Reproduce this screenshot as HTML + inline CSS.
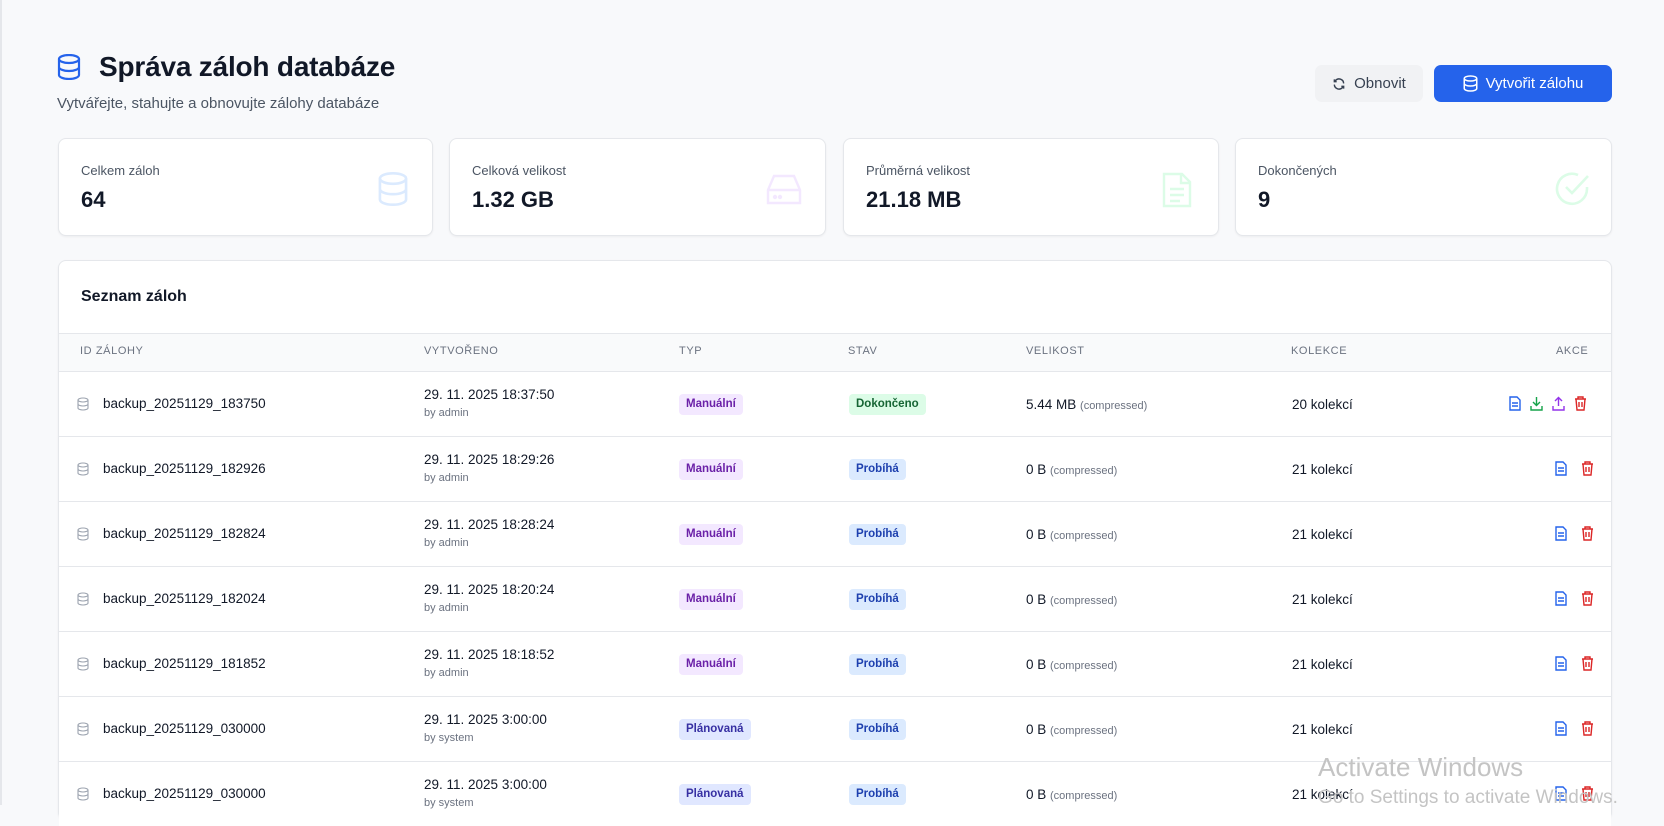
<!DOCTYPE html>
<html><head><meta charset="utf-8"><style>
*{box-sizing:border-box;margin:0;padding:0}
body{width:1664px;height:805px;overflow:hidden;background:#f8f9fb;font-family:"Liberation Sans",sans-serif;color:#111827;position:relative;border-left:2px solid #e5e7eb}
.a{position:absolute}
.title{left:97px;top:51px;font-size:28px;font-weight:bold;color:#111827;letter-spacing:-0.2px}
.sub{left:55px;top:95px;font-size:15px;color:#4b5563}
.btn{top:65px;height:37px;border-radius:7px;font-size:15px;display:flex;align-items:center;justify-content:center;gap:8px}
.card{background:#fff;border:1px solid #e5e7eb;border-radius:8px;box-shadow:0 1px 2px rgba(0,0,0,.05)}
.lbl{font-size:13px;color:#4b5563;position:absolute;left:22px;top:24px}
.val{font-size:22px;font-weight:bold;color:#111827;position:absolute;left:22px;top:48px}
.th{position:absolute;top:345px;font-size:11px;color:#6b7280;letter-spacing:.6px}
.row{position:absolute;left:57px;width:1552px;height:65px;border-top:1px solid #e5e7eb}
.row>*{position:absolute}
.id{left:44px;top:24px;font-size:13.5px;color:#111827}
.dt{left:365px;top:15px;font-size:13.5px;color:#111827}
.by{left:365px;top:35px;font-size:11px;color:#6b7280}
.badge{top:22px;height:21px;border-radius:4px;font-size:11.5px;font-weight:bold;padding:0 7px;line-height:21px}
.sz{left:967px;top:25px;font-size:13.5px}
.sz span{font-size:11px;color:#6b7280}
.kol{left:1233px;top:25px;font-size:13.5px}
</style></head><body>
<svg class="a" style="left:55px;top:54px" width="24" height="26" viewBox="0 0 24 26" fill="none" stroke="#2563eb" stroke-width="2.2"><ellipse cx="12" cy="5" rx="10" ry="4"/><path d="M2 5v16c0 2.2 4.5 4 10 4s10-1.8 10-4V5M2 13c0 2.2 4.5 4 10 4s10-1.8 10-4"/></svg>
<div class="a title">Správa záloh databáze</div>
<div class="a sub">Vytvářejte, stahujte a obnovujte zálohy databáze</div>
<div class="a btn" style="left:1313px;width:108px;background:#f1f2f4;color:#374151"><svg width="14" height="14" viewBox="0 0 24 24" fill="none" stroke="#374151" stroke-width="2.4"><path d="M20 11a8 8 0 0 0-14-5l-2 2M4 4v4h4M4 13a8 8 0 0 0 14 5l2-2M20 20v-4h-4"/></svg>Obnovit</div>
<div class="a btn" style="left:1432px;width:178px;background:#2563eb;color:#fff"><svg width="15" height="17" viewBox="0 0 24 26" fill="none" stroke="#fff" stroke-width="2.4"><ellipse cx="12" cy="5" rx="10" ry="4"/><path d="M2 5v16c0 2.2 4.5 4 10 4s10-1.8 10-4V5M2 13c0 2.2 4.5 4 10 4s10-1.8 10-4"/></svg>Vytvořit zálohu</div>

<div class="a card" style="left:56px;top:138px;width:375px;height:98px"><div class="lbl">Celkem záloh</div><div class="val">64</div>
<svg class="a" style="left:318px;top:33px" width="32" height="34" viewBox="0 0 24 26" fill="none" stroke="#dbeafe" stroke-width="2"><ellipse cx="12" cy="5" rx="10" ry="4"/><path d="M2 5v16c0 2.2 4.5 4 10 4s10-1.8 10-4V5M2 13c0 2.2 4.5 4 10 4s10-1.8 10-4"/></svg></div>
<div class="a card" style="left:447px;top:138px;width:377px;height:98px"><div class="lbl">Celková velikost</div><div class="val">1.32 GB</div>
<svg class="a" style="left:316px;top:35px" width="36" height="32" viewBox="0 0 36 32" fill="none" stroke="#f3e8ff" stroke-width="2.4"><path d="M8 2h20l6 14v13H2V16z M2 16h32"/><circle cx="9" cy="23" r="1"/><circle cx="14" cy="23" r="1"/></svg></div>
<div class="a card" style="left:841px;top:138px;width:376px;height:98px"><div class="lbl">Průměrná velikost</div><div class="val">21.18 MB</div>
<svg class="a" style="left:318px;top:33px" width="30" height="36" viewBox="0 0 30 36" fill="none" stroke="#dcfce7" stroke-width="2.4"><path d="M2 2h18l8 8v24H2z M19 2v9h9 M8 17h14 M8 23h14 M8 29h10"/></svg></div>
<div class="a card" style="left:1233px;top:138px;width:377px;height:98px"><div class="lbl">Dokončených</div><div class="val">9</div>
<svg class="a" style="left:318px;top:32px" width="36" height="36" viewBox="0 0 36 36" fill="none" stroke="#dcfce7" stroke-width="2.6"><path d="M33 16v2a15 15 0 1 1-9-14"/><path d="M12 16l6 6L34 5"/></svg></div>

<div class="a card" style="left:56px;top:260px;width:1554px;height:560px;overflow:hidden">
<div class="a" style="left:22px;top:27px;font-size:16px;font-weight:bold">Seznam záloh</div>
<div class="a" style="left:0;top:72px;width:1554px;height:39px;background:#f9fafb;border-top:1px solid #e5e7eb"></div>
</div>
<div class="th" style="left:78px">ID ZÁLOHY</div>
<div class="th" style="left:422px">VYTVOŘENO</div>
<div class="th" style="left:677px">TYP</div>
<div class="th" style="left:846px">STAV</div>
<div class="th" style="left:1024px">VELIKOST</div>
<div class="th" style="left:1289px">KOLEKCE</div>
<div class="th" style="left:1554px">AKCE</div>

<div id="rows"></div>
<script>
const rows=[
["backup_20251129_183750","29. 11. 2025 18:37:50","admin","Manuální","Dokončeno","5.44 MB","20 kolekcí",1],
["backup_20251129_182926","29. 11. 2025 18:29:26","admin","Manuální","Probíhá","0 B","21 kolekcí",0],
["backup_20251129_182824","29. 11. 2025 18:28:24","admin","Manuální","Probíhá","0 B","21 kolekcí",0],
["backup_20251129_182024","29. 11. 2025 18:20:24","admin","Manuální","Probíhá","0 B","21 kolekcí",0],
["backup_20251129_181852","29. 11. 2025 18:18:52","admin","Manuální","Probíhá","0 B","21 kolekcí",0],
["backup_20251129_030000","29. 11. 2025 3:00:00","system","Plánovaná","Probíhá","0 B","21 kolekcí",0],
["backup_20251129_030000","29. 11. 2025 3:00:00","system","Plánovaná","Probíhá","0 B","21 kolekcí",0]];
const doc=c=>`<svg width="12" height="15" viewBox="0 0 12 15" fill="none" stroke="${c}" stroke-width="1.4"><path d="M1 1h7l3 3v10H1z M3 7h6 M3 10h6"/></svg>`;
const trash=`<svg width="13" height="15" viewBox="0 0 13 15" fill="none" stroke="#dc2626" stroke-width="1.4"><path d="M1 3h11 M4 3V1h5v2 M2 3l1 11h7l1-11 M5 6v5 M8 6v5"/></svg>`;
const dl=`<svg width="13" height="15" viewBox="0 0 13 15" fill="none" stroke="#16a34a" stroke-width="1.4"><path d="M6.5 1v8 M3 6l3.5 3.5L10 6 M1 10v4h11v-4"/></svg>`;
const ul=`<svg width="13" height="15" viewBox="0 0 13 15" fill="none" stroke="#9333ea" stroke-width="1.4"><path d="M6.5 10V2 M3 5l3.5-3.5L10 5 M1 10v4h11v-4"/></svg>`;
const db=`<svg width="12" height="14" viewBox="0 0 24 26" fill="none" stroke="#9ca3af" stroke-width="2.2"><ellipse cx="12" cy="5" rx="10" ry="4"/><path d="M2 5v16c0 2.2 4.5 4 10 4s10-1.8 10-4V5M2 13c0 2.2 4.5 4 10 4s10-1.8 10-4"/></svg>`;
let h="";
rows.forEach((r,i)=>{
const top=371+i*65;
const typ=r[3]=="Manuální"?"background:#f3e8ff;color:#6b21a8":"background:#e0e7ff;color:#3730a3";
const st=r[4]=="Dokončeno"?"background:#dcfce7;color:#166534":"background:#dbeafe;color:#1e40af";
const acts=r[7]?`<div style="position:absolute;left:1450px;top:24px;display:flex;gap:9px">${doc('#2563eb')}${dl}${ul}${trash}</div>`:`<div style="position:absolute;left:1496px;top:24px;display:flex;gap:14px">${doc('#2563eb')}${trash}</div>`;
h+=`<div class="row" style="top:${top}px;background:#fff"><div style="left:18px;top:25px">${db}</div><div class="id">${r[0]}</div><div class="dt">${r[1]}</div><div class="by">by ${r[2]}</div><div class="badge" style="left:620px;${typ}">${r[3]}</div><div class="badge" style="left:790px;${st}">${r[4]}</div><div class="sz">${r[5]} <span>(compressed)</span></div><div class="kol">${r[6]}</div>${acts}</div>`;
});
document.getElementById('rows').innerHTML=h;
</script>
<div class="a" style="left:1316px;top:752px;font-size:26px;color:#c4c4c4">Activate Windows</div>
<div class="a" style="left:1316px;top:787px;font-size:19px;color:#c4c4c4">Go to Settings to activate Windows.</div>
</body></html>
